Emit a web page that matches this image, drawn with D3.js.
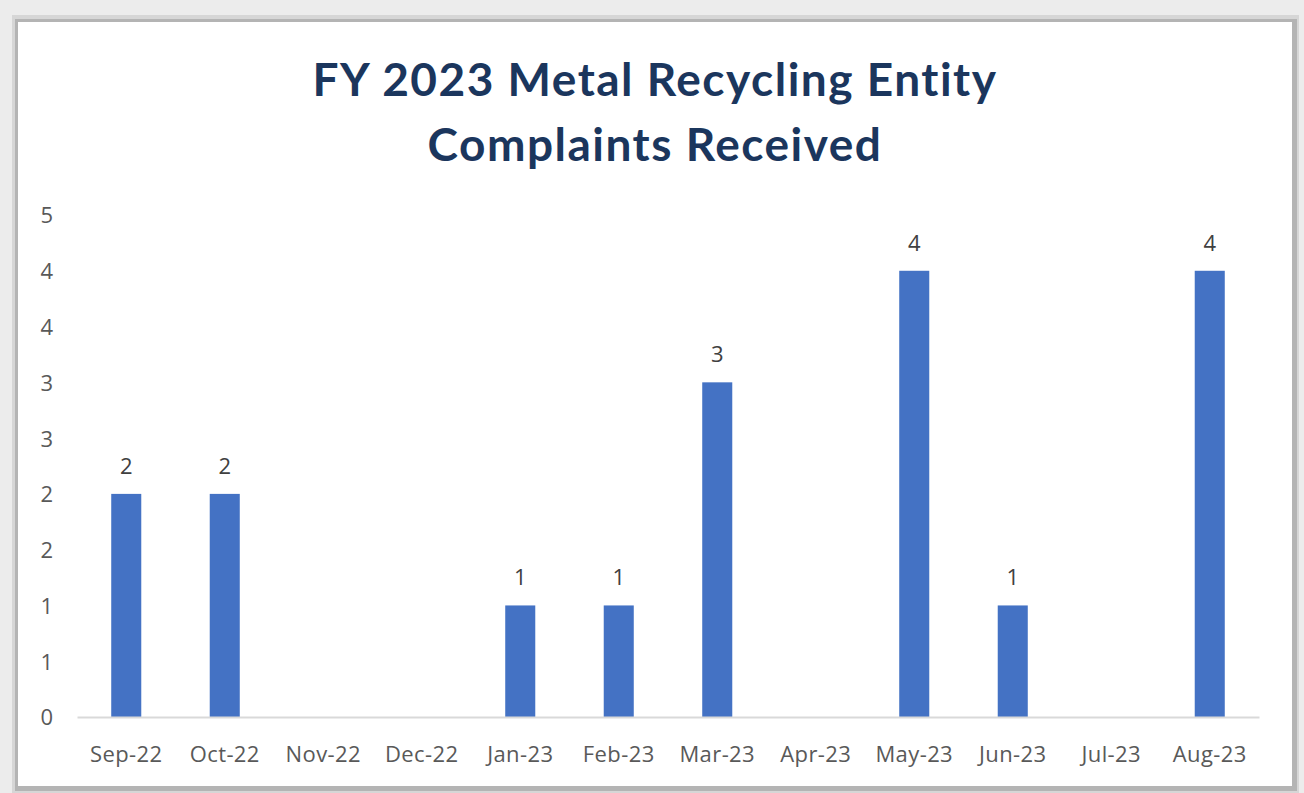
<!DOCTYPE html>
<html><head><meta charset="utf-8">
<script src="https://cdn.jsdelivr.net/npm/d3@7"></script>
<style>
html,body{margin:0;padding:0;background:#fff;}
svg{display:block;}
</style></head>
<body>
<svg id="chart" width="1304" height="793"></svg>
<script>
const categories = ["Sep-22","Oct-22","Nov-22","Dec-22","Jan-23","Feb-23","Mar-23","Apr-23","May-23","Jun-23","Jul-23","Aug-23"];
const complaints = [2,2,0,0,1,1,3,0,4,1,0,4];
const tickValues = [0,0.5,1,1.5,2,2.5,3,3.5,4,4.5];
const tickLabels = ["0","1","1","2","2","3","3","4","4","5"];
const titleLines = ["FY 2023 Metal Recycling Entity","Complaints Received"];

const svg = d3.select("#chart");
const W = 1304, H = 793;

// frame background / shadow
svg.append("rect").attr("x",0).attr("y",0).attr("width",W).attr("height",H).attr("fill","#ececec");
svg.append("rect").attr("x",12).attr("y",15).attr("width",1287).attr("height",778).attr("fill","#d6d6d6");
svg.append("rect").attr("x",15).attr("y",19).attr("width",1282).attr("height",772).attr("fill","#b4b4b4");
svg.append("rect").attr("x",18).attr("y",22).attr("width",1274).attr("height",764).attr("fill","#ffffff");

const plot = {left:77, right:1259, top:215, bottom:717};

const x = d3.scaleBand().domain(categories).range([plot.left, plot.right]).paddingInner(0.695).paddingOuter(0.3475);
const y = d3.scaleLinear().domain([0,4.5]).range([plot.bottom, plot.top]);

const lblFont = "'Open Sans', 'Noto Sans', sans-serif";

// title
svg.append("g").selectAll("text").data(titleLines).join("text")
  .attr("x", 655).attr("y",(d,i)=>96 + i*65)
  .attr("text-anchor","middle")
  .attr("font-family","Lato, 'Open Sans', sans-serif")
  .attr("font-weight","bold")
  .attr("font-size",46)
  .attr("letter-spacing",1.5)
  .attr("fill","#1b365d")
  .text(d=>d);

// y axis labels
const yAxis = d3.axisLeft(y).tickValues(tickValues).tickFormat((d,i)=>tickLabels[i]).tickSize(0).tickPadding(0);
const ya = svg.append("g").attr("transform",`translate(53,0)`).call(yAxis);
ya.select(".domain").remove();
ya.selectAll("text").attr("font-family",lblFont).attr("font-size",22).attr("fill","#595959").attr("dy","0.36em");

// bars
svg.append("g").selectAll("rect").data(complaints).join("rect")
  .attr("x",(d,i)=>x(categories[i]))
  .attr("y",d=>y(d))
  .attr("width",x.bandwidth())
  .attr("height",d=>plot.bottom - y(d))
  .attr("fill","#4472c4");

// data labels
svg.append("g").selectAll("text").data(complaints.map((v,i)=>({v,i})).filter(d=>d.v>0)).join("text")
  .attr("x",d=>x(categories[d.i]) + x.bandwidth()/2)
  .attr("y",d=>y(d.v) - 20)
  .attr("text-anchor","middle")
  .attr("font-family",lblFont)
  .attr("font-size",22)
  .attr("fill","#404040")
  .text(d=>d.v);

// x axis
const xAxis = d3.axisBottom(x).tickSize(0).tickPadding(0);
const xa = svg.append("g").attr("transform",`translate(0,${plot.bottom})`).call(xAxis);
xa.select(".domain").attr("stroke","#d9d9d9").attr("stroke-width",2);
xa.selectAll("text").attr("font-family",lblFont).attr("font-size",22).attr("fill","#595959")
  .attr("letter-spacing",0.4).attr("dy",null).attr("y",45);
</script>
</body></html>
